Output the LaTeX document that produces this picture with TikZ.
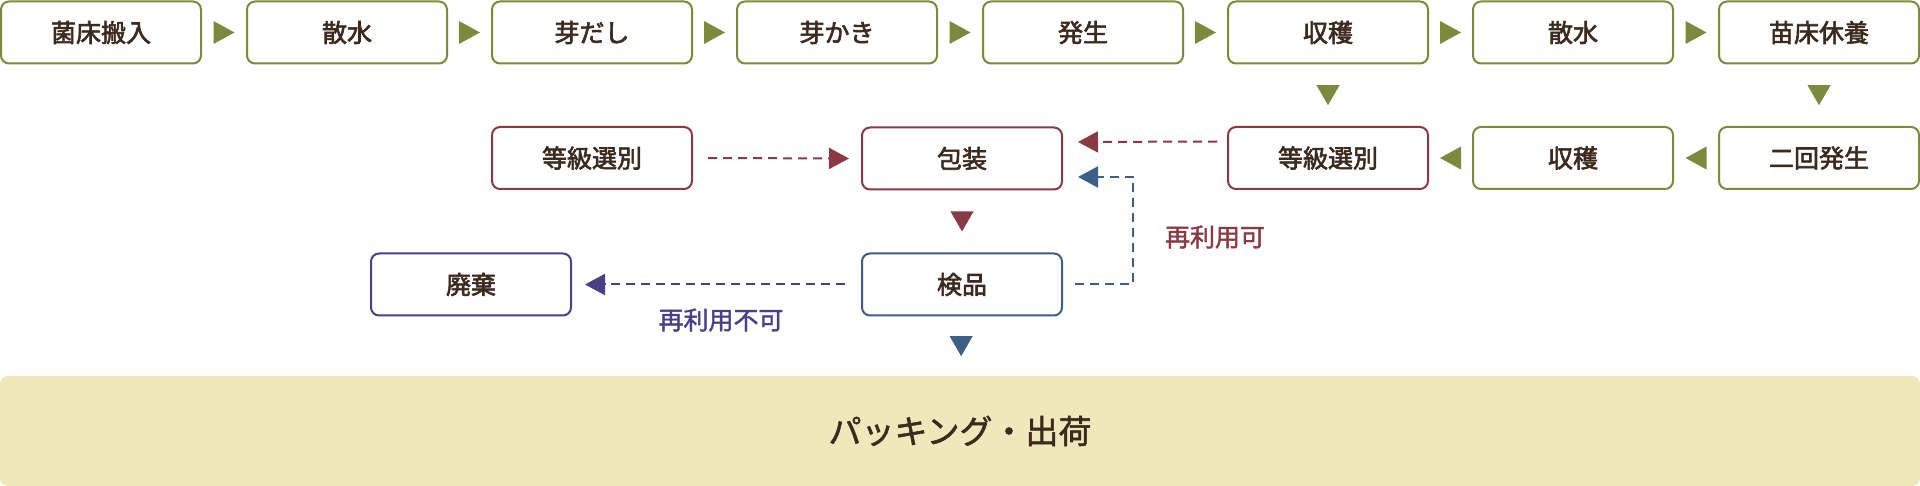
\documentclass[tikz,border=0pt]{standalone}
\usepackage{fontspec}
\newfontfamily\jp{Noto Sans CJK JP}
\newfontfamily\jpm[FakeBold=2.4]{Noto Sans CJK JP}
\newfontfamily\jpl[FakeBold=1.6]{Noto Sans CJK JP}
\usetikzlibrary{arrows.meta,calc}
\definecolor{grn}{HTML}{7B8A3C}
\definecolor{mar}{HTML}{8A3A42}
\definecolor{blu}{HTML}{3D5F86}
\definecolor{pur}{HTML}{4B3F86}
\definecolor{txt}{HTML}{3C2A1E}
\definecolor{bandc}{HTML}{EFE8BB}
\begin{document}
\begin{tikzpicture}[x=1pt,y=-1pt,
  box/.style={draw=#1, line width=2pt, rounded corners=8pt, minimum width=200pt, minimum height=62pt, inner sep=0pt, fill=white, text=txt, font=\jpm\fontsize{25}{25}\selectfont},
  dl/.style={draw=#1, line width=2pt, dash pattern=on 9pt off 6pt, -{Triangle[length=20pt,width=21pt]}},
  lbl/.style={text=#1, inner sep=0pt, font=\jpl\fontsize{25}{25}\selectfont},
  triR/.pic={\fill[#1] (-10.5,-11.5) -- (10.5,0) -- (-10.5,11.5) -- cycle;},
  triL/.pic={\fill[#1] (10.5,-11.5) -- (-10.5,0) -- (10.5,11.5) -- cycle;},
  triD/.pic={\fill[#1] (-11.5,-10) -- (11.5,-10) -- (0,10) -- cycle;}
]
\useasboundingbox (0,0) rectangle (1920,486);
% band
\node[fill=bandc, rounded corners=8pt, minimum width=1920pt, minimum height=110pt, inner sep=0pt, text=txt, font=\jpl\fontsize{33}{33}\selectfont] (band) at (960,431) {パッキング・出荷};
% top row
\node[box=grn] (t1) at (101,32.5) {菌床搬入};
\node[box=grn] (t2) at (347,32.5) {散水};
\node[box=grn] (t3) at (592,32.5) {芽だし};
\node[box=grn] (t4) at (837,32.5) {芽かき};
\node[box=grn] (t5) at (1083,32.5) {発生};
\node[box=grn] (t6) at (1328,32.5) {収穫};
\node[box=grn] (t7) at (1573,32.5) {散水};
\node[box=grn] (t8) at (1819,32.5) {苗床休養};
% row 2
\node[box=mar] (selL) at (592,158) {等級選別};
\node[box=mar] (pack) at (962,158.5) {包装};
\node[box=mar] (selR) at (1328,158) {等級選別};
\node[box=grn] (harv2) at (1573,158) {収穫};
\node[box=grn] (gen2) at (1819,158) {二回発生};
% row 3
\node[box=blu] (insp) at (962,284.5) {検品};
\node[box=pur] (disc) at (471,284.5) {廃棄};
% triangle connectors
\path (t1) -- pic{triR=grn} (t2);
\path (t2) -- pic{triR=grn} (t3);
\path (t3) -- pic{triR=grn} (t4);
\path (t4) -- pic{triR=grn} (t5);
\path (t5) -- pic{triR=grn} (t6);
\path (t6) -- pic{triR=grn} (t7);
\path (t7) -- pic{triR=grn} (t8);
\path (t8) -- pic{triD=grn} (gen2);
\path (t6) -- pic{triD=grn} (selR);
\path (gen2) -- pic{triL=grn} (harv2);
\path (harv2) -- pic{triL=grn} (selR);
\path (pack) -- pic{triD=mar} (insp);
\path (insp) -- pic{triD=blu} (band);
% dashed connectors
\draw[dl=mar] ($(selL.east)+(15,0)$) -- ($(pack.west)+(-12,0)$);
\draw[dl=mar] ($(selR.west)+(-10,-16.5)$) -- ($(pack.east)+(15,-16.5)$);
\draw[dl=blu] ($(insp.east)+(12,0)$) -| ($(pack.east)+(70,18.5)$) -- ($(pack.east)+(15,18.5)$);
\draw[dl=pur] ($(insp.west)+(-16,0)$) -- ($(disc.east)+(13,0)$);
% labels
\node[lbl=mar] (okl) at (1215,237) {再利用可};
\node[lbl=pur] (ngl) at (721,320) {再利用不可};
\end{tikzpicture}
\end{document}
